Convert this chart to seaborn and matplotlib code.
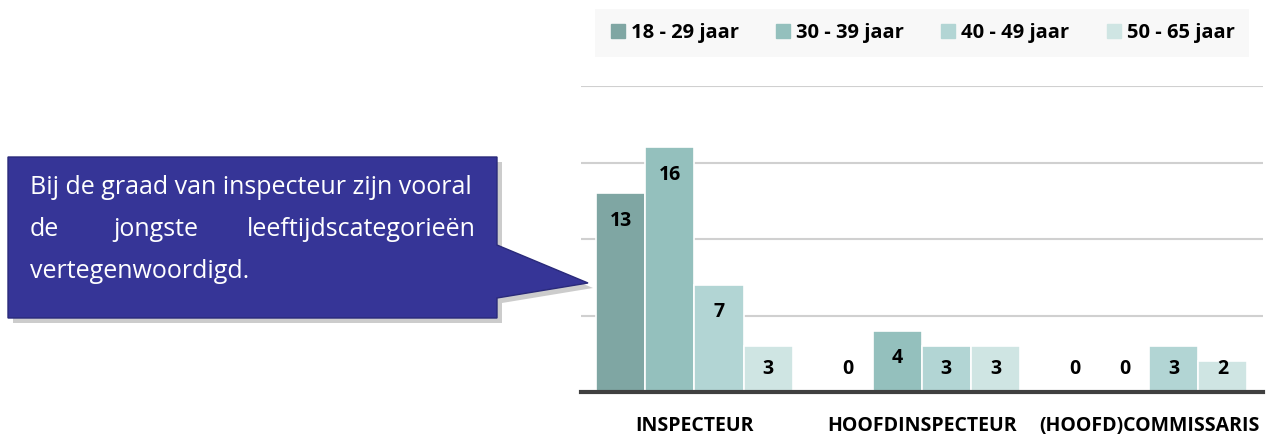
import pandas as pd
import matplotlib.pyplot as plt
import seaborn as sns
from matplotlib.patches import Polygon
from matplotlib.lines import Line2D

# data
grades = ["INSPECTEUR", "HOOFDINSPECTEUR", "(HOOFD)COMMISSARIS"]
age_groups = ["18 - 29 jaar", "30 - 39 jaar", "40 - 49 jaar", "50 - 65 jaar"]
counts_18_29 = [13, 0, 0]
counts_30_39 = [16, 4, 0]
counts_40_49 = [7, 3, 3]
counts_50_65 = [3, 3, 2]
colors = ["#7FA6A3", "#94C0BD", "#B2D5D4", "#CFE5E3"]

callout_lines = ["Bij de graad van inspecteur zijn vooral",
                 ["de", "jongste", "leeftijdscategorieën"],
                 "vertegenwoordigd."]

rows = []
for age, vals in zip(age_groups, [counts_18_29, counts_30_39, counts_40_49, counts_50_65]):
    for g, v in zip(grades, vals):
        rows.append({"graad": g, "leeftijd": age, "aantal": v})
df = pd.DataFrame(rows)

sns.set_theme(style="white")
plt.rcParams["font.family"] = ["Open Sans", "DejaVu Sans"]

fig = plt.figure(figsize=(12.82, 4.37), dpi=100)
ax = fig.add_axes([0.453, 0.103, 0.532, 0.700])

sns.barplot(data=df, x="graad", y="aantal", hue="leeftijd", order=grades,
            hue_order=age_groups, palette=colors, width=0.865, saturation=1,
            edgecolor="white", linewidth=1.2, legend=False, ax=ax)

ax.set_ylim(0, 20)
ax.set_xlim(-0.5, 2.5)
ax.set_yticks([5, 10, 15, 20])
ax.yaxis.grid(True, color="#D0D0D0", linewidth=1.5)
ax.set_axisbelow(True)
ax.tick_params(axis="y", left=False, labelleft=False)
ax.tick_params(axis="x", bottom=False, pad=11)
for lab in ax.get_xticklabels():
    lab.set_fontweight("bold")
    lab.set_fontsize(14)
    lab.set_color("black")
ax.set_xlabel("")
ax.set_ylabel("")
for s in ["top", "right", "left"]:
    ax.spines[s].set_visible(False)
ax.spines["bottom"].set_color("#404040")
ax.spines["bottom"].set_linewidth(3)

# value labels inside the bars
for cont in ax.containers:
    for bar in cont:
        v = bar.get_height()
        ax.text(bar.get_x() + bar.get_width() / 2, max(v - 1.8, 1.5), f"{int(v)}",
                ha="center", va="center", fontsize=14, fontweight="bold", color="black")

# legend
handles = [Line2D([], [], marker="s", linestyle="", markersize=10,
                  markerfacecolor=c, markeredgecolor=c) for c in colors]
leg = fig.legend(handles, age_groups, loc="center", bbox_to_anchor=(0.719, 0.924),
                 ncol=4, frameon=True, fancybox=False, handletextpad=0.2,
                 handlelength=0.9, columnspacing=1.75, borderpad=0.7,
                 prop={"weight": "bold", "size": 14.5})
leg.get_frame().set_facecolor("#F7F7F7")
leg.get_frame().set_edgecolor("none")
for t in leg.get_texts():
    t.set_color("black")

# callout box with pointer (pixel coords -> figure fraction)
W, H = 1282, 437
pts = [(8, 157), (497, 157), (497, 245), (588, 283), (497, 298), (497, 318), (8, 318)]
shadow = [((x + 5) / W, 1 - (y + 5) / H) for x, y in pts]
shape = [(x / W, 1 - y / H) for x, y in pts]
fig.patches.append(Polygon(shadow, closed=True, transform=fig.transFigure,
                           facecolor="#9A9A9A", edgecolor="none", alpha=0.5))
fig.patches.append(Polygon(shape, closed=True, transform=fig.transFigure,
                           facecolor="#363597", edgecolor="#2A2A7A", linewidth=1))

fs = 18
x0, x1 = 30 / W, 476 / W
fig.text(x0, 1 - 187 / H, callout_lines[0], color="white", fontsize=fs, va="center")
mid = callout_lines[1]
fig.text(x0, 1 - 229 / H, mid[0], color="white", fontsize=fs, va="center", ha="left")
fig.text(156 / W, 1 - 229 / H, mid[1], color="white", fontsize=fs, va="center", ha="center")
fig.text(x1, 1 - 229 / H, mid[2], color="white", fontsize=fs, va="center", ha="right")
fig.text(x0, 1 - 271 / H, callout_lines[2], color="white", fontsize=fs, va="center")

fig.savefig("out.png", dpi=100)
